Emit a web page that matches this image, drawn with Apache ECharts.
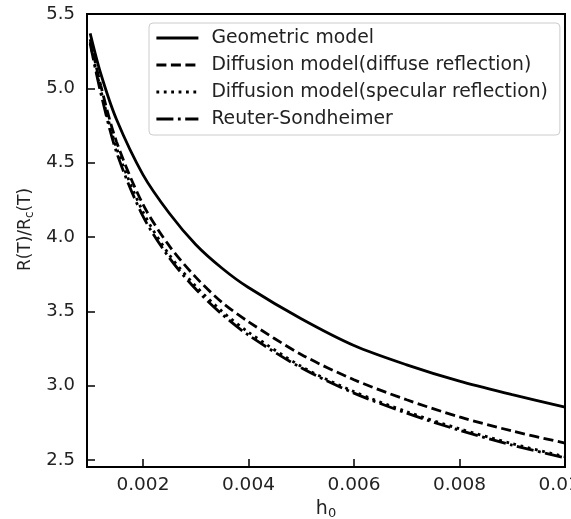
<!DOCTYPE html>
<html>
<head>
<meta charset="utf-8">
<script src="https://cdn.jsdelivr.net/npm/echarts@6/dist/echarts.min.js"></script>
<style>html,body{margin:0;padding:0;background:#fff;}#c{width:571px;height:519px;}</style>
</head>
<body>
<div id="c"></div>
<script>
var h0 = [0.001, 0.0012, 0.0015, 0.002, 0.0025, 0.003, 0.0035, 0.004, 0.005, 0.006, 0.007, 0.008, 0.009, 0.01];
var geometric = [5.37, 5.10, 4.79, 4.42, 4.16, 3.95, 3.79, 3.66, 3.45, 3.27, 3.14, 3.03, 2.94, 2.856];
var diffuse   = [5.33, 5.02, 4.64, 4.22, 3.94, 3.73, 3.56, 3.43, 3.21, 3.04, 2.905, 2.79, 2.695, 2.614];
var specular  = [5.31, 4.99, 4.60, 4.17, 3.88, 3.67, 3.50, 3.36, 3.13, 2.96, 2.825, 2.71, 2.61, 2.522];
var reuter    = [5.30, 4.97, 4.57, 4.14, 3.86, 3.65, 3.48, 3.34, 3.12, 2.95, 2.815, 2.70, 2.60, 2.515];
var names = ['Geometric model', 'Diffusion model(diffuse reflection)', 'Diffusion model(specular reflection)', 'Reuter-Sondheimer'];
var yTicks = [2.5, 3.0, 3.5, 4.0, 4.5, 5.0, 5.5];
var xTicks = [0.002, 0.004, 0.006, 0.008, 0.010];

function pairs(ys){ return h0.map(function(x,i){ return [x, ys[i]]; }); }
var lw = 2.8;
var styles = [
  {type:'solid'},
  {type:[10,4.5]},
  {type:[2.8,4.6]},
  {type:[17,4.5,2.8,4.5]}
];
var dataSets = [geometric, diffuse, specular, reuter];
var font = 'DejaVu Sans';
var series = dataSets.map(function(d,i){
  return {
    name: names[i], type:'line', data: pairs(d), showSymbol:false, symbol:'none',
    smooth: 0.3, z: 10 - i,
    lineStyle: {color:'#000', width: lw, type: styles[i].type, cap:'butt'},
    itemStyle: {color:'#000'}
  };
});
var chart = echarts.init(document.getElementById('c'), null, {renderer:'canvas'});
chart.setOption({
  animation:false,
  backgroundColor:'#fff',
  grid:{left:87, right:6, top:14, bottom:52, containLabel:false, outerBoundsMode:'none',
        show:true, borderColor:'#000', borderWidth:2, backgroundColor:'transparent'},
  legend:{
    orient:'vertical', left:149, top:23,
    itemWidth:42, itemHeight:14, itemGap:7,
    padding:[5,12,6,6],
    backgroundColor:'rgba(255,255,255,0.8)', borderColor:'#ccc', borderWidth:1, borderRadius:4,
    itemStyle:{color:'rgba(0,0,0,0)', borderWidth:0, opacity:0},
    lineStyle:{width:lw},
    textStyle:{fontFamily:font, fontSize:18.8, color:'#222', lineHeight:20, padding:[0,0,0,8]},
    data: names
  },
  xAxis:{
    type:'value', min:0.00094, max:0.01,
    name:'{a|h}{s|0}', nameLocation:'middle', nameGap:24,
    nameTextStyle:{rich:{a:{fontFamily:font, fontSize:19, color:'#222'}, s:{fontFamily:font, fontSize:13, color:'#222', padding:[8,0,0,0]}}},
    axisLine:{show:true, lineStyle:{color:'#000', width:2}},
    axisTick:{show:true, inside:true, length:8, customValues:xTicks, lineStyle:{color:'#000', width:1.5}},
    axisLabel:{customValues:xTicks, margin:9, fontFamily:font, fontSize:18.5, color:'#222', formatter:function(v){return v.toFixed(3);}},
    splitLine:{show:false}
  },
  yAxis:{
    type:'value', min:2.453, max:5.5,
    name:'{a|R(T)/R}{s|c}{a|(T)}', nameLocation:'middle', nameGap:50,
    nameTextStyle:{padding:[0,0,0,22], rich:{a:{fontFamily:font, fontSize:17, color:'#222'}, s:{fontFamily:font, fontSize:12, color:'#222', padding:[8,0,0,0]}}},
    axisLine:{show:true, lineStyle:{color:'#000', width:2}},
    axisTick:{show:true, inside:true, length:8, customValues:yTicks, lineStyle:{color:'#000', width:1.5}},
    axisLabel:{customValues:yTicks, margin:12, fontFamily:font, fontSize:18, color:'#222', formatter:function(v){return v.toFixed(1);}},
    splitLine:{show:false}
  },
  series: series
});
</script>
</body>
</html>
